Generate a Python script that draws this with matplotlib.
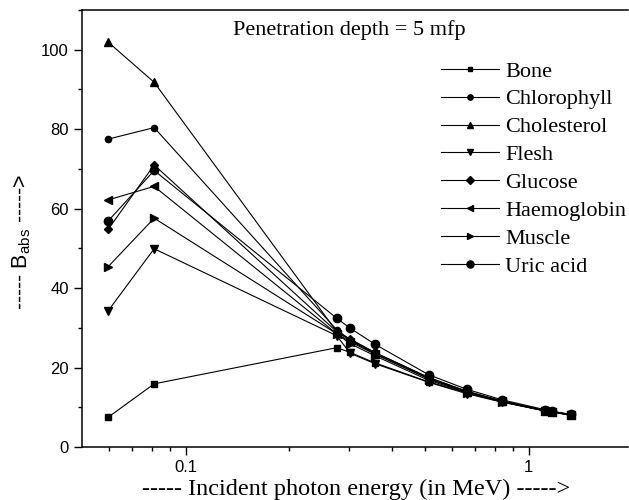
import numpy as np
import matplotlib
matplotlib.use('Agg')
import matplotlib.pyplot as plt
from matplotlib.ticker import FixedLocator, NullFormatter, MultipleLocator

plt.rcParams['font.family'] = ['Liberation Sans', 'DejaVu Sans']
plt.rcParams['mathtext.default'] = 'regular'

# photon energies (MeV)
energy = [0.0595, 0.081, 0.276, 0.302, 0.356, 0.511, 0.662, 0.835, 1.115, 1.173, 1.332]

bone = [7.5, 15.9, 25.0, 23.8, 21.2, 16.4, 13.6, 11.4, 9.2, 8.9, 8.1]
chlorophyll = [77.5, 80.4, 29.5, 27.0, 23.8, 17.5, 14.0, 11.6, 9.2, 8.9, 8.1]
cholesterol = [101.9, 91.8, 29.0, 26.8, 23.5, 17.2, 13.8, 11.5, 9.1, 8.8, 8.0]
flesh = [34.3, 49.9, 28.0, 23.6, 21.0, 16.3, 13.4, 11.3, 9.1, 8.8, 8.0]
glucose = [54.8, 71.0, 29.0, 27.2, 23.8, 17.5, 14.0, 11.6, 9.2, 8.9, 8.1]
haemoglobin = [62.2, 65.6, 28.5, 26.5, 23.4, 17.2, 13.9, 11.5, 9.1, 8.9, 8.1]
muscle = [45.4, 57.6, 28.5, 26.0, 23.0, 16.8, 13.7, 11.4, 9.1, 8.8, 8.0]
uric_acid = [56.9, 69.6, 32.4, 29.9, 25.9, 18.2, 14.5, 11.9, 9.4, 9.0, 8.2]

names = ['Bone', 'Chlorophyll', 'Cholesterol', 'Flesh', 'Glucose',
         'Haemoglobin', 'Muscle', 'Uric acid']
series = [bone, chlorophyll, cholesterol, flesh, glucose, haemoglobin, muscle, uric_acid]
markers = ['s', 'o', '^', 'v', 'D', '<', '>', 'o']
msizes = [4, 4.5, 5.5, 5.5, 4.5, 5.5, 5.5, 6]

fig = plt.figure(figsize=(6.29, 5.0), dpi=100)
ax = fig.add_axes([82/629, 53/500, 546/629, 437/500])

for name, y, m, ms in zip(names, series, markers, msizes):
    ax.plot(energy, y, color='black', lw=0.8, marker=m, ms=ms, mec='black', mfc='black', label=name)

ax.set_xscale('log')
ax.set_xlim(0.0499, 1.95)
ax.set_ylim(0, 110)
ax.xaxis.set_major_locator(FixedLocator([0.1, 1]))
ax.set_xticklabels(['0.1', '1'])
ax.xaxis.set_minor_locator(FixedLocator([0.06, 0.07, 0.08, 0.09, 0.2, 0.3, 0.4, 0.5, 0.6, 0.7, 0.8, 0.9]))
ax.xaxis.set_minor_formatter(NullFormatter())
ax.yaxis.set_major_locator(MultipleLocator(20))
ax.yaxis.set_minor_locator(MultipleLocator(10))

ax.tick_params(which='major', direction='out', length=6, width=1, labelsize=12)
ax.tick_params(which='minor', direction='out', length=3, width=1)
ax.tick_params(axis='both', which='both', top=False, right=False)
for s in ax.spines.values():
    s.set_linewidth(1.1)
ax.spines['right'].set_visible(False)

ax.text(0.49, 0.955, 'Penetration depth = 5 mfp', transform=ax.transAxes,
        ha='center', va='center', fontsize=16, family='Liberation Serif')

leg = ax.legend(loc='upper left', bbox_to_anchor=(441/629, 1 - 61/500),
                bbox_transform=fig.transFigure, frameon=False,
                prop={'family': 'Liberation Serif', 'size': 16},
                handlelength=2.6, handletextpad=0.3, labelspacing=0.33,
                markerscale=0.85, borderpad=0, borderaxespad=0)

fig.text(356/629, 1 - 489/500, '----- Incident photon energy (in MeV) ----->',
         ha='center', va='center', fontsize=17.5, family='Liberation Serif')
fig.text(22/629, 1 - 242/500, '----- B$_{abs}$ ----->', rotation=90,
         ha='center', va='center', fontsize=15.5)

fig.savefig('out.png', dpi=100)
